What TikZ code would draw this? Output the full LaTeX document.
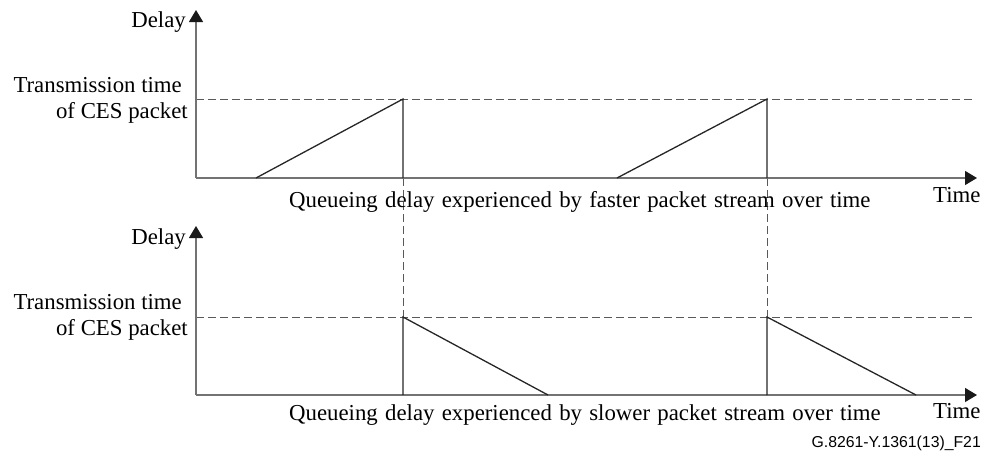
\documentclass[tikz,border=0pt]{standalone}
\usepackage{fontspec}
\setmainfont{Liberation Serif}
\newfontfamily\figsans{Liberation Sans}
\usetikzlibrary{arrows.meta}
\newcommand\widespaces{\spaceskip=7.3pt plus 1pt\relax}
\begin{document}
\begin{tikzpicture}[x=1pt,y=-1pt,
  axis/.style={draw=black!55, line width=1.2pt,
    -{Triangle[length=12pt,width=14pt,color=black!90]}},
  ramp/.style={draw=black!85, line width=1.3pt},
  guide/.style={draw=black!65, line width=1pt, dash pattern=on 8pt off 4pt},
  lbl/.style={inner sep=0pt, font=\fontsize{22.8}{27}\selectfont},
  tag/.style={inner sep=0pt, font=\figsans\fontsize{15.8}{18}\selectfont}]
\useasboundingbox (0,0) rectangle (982,456);

% upper plot: faster stream
\coordinate (o1) at (196,178);
\coordinate (y1) at (196,10);
\coordinate (x1) at (977,178);
\coordinate (l1) at (196,99);
\coordinate (r1) at (975,99);
\coordinate (a1) at (256,178);
\coordinate (p1) at (403,99);
\coordinate (f1) at (403,178);
\coordinate (a2) at (617,178);
\coordinate (p2) at (767,99);
\coordinate (f2) at (767,178);

% lower plot: slower stream
\coordinate (o2) at (196,395);
\coordinate (y2) at (196,226);
\coordinate (x2) at (977,395);
\coordinate (l2) at (196,317);
\coordinate (r2) at (975,317);
\coordinate (q1) at (403,317);
\coordinate (g1) at (403,395);
\coordinate (e1) at (548,395);
\coordinate (q2) at (767,317);
\coordinate (g2) at (767,395);
\coordinate (e2) at (916,395);

% guide lines
\draw[guide] (l1) -- (r1);
\draw[guide] (l2) -- (r2);
\draw[guide] (f1) -- (q1);
\draw[guide] (f2) -- (q2);

% axes
\draw[axis] (o1) -- (y1);
\draw[axis] (o1) -- (x1);
\draw[axis] (o2) -- (y2);
\draw[axis] (o2) -- (x2);

% queueing delay curves
\draw[ramp] (a1) -- (p1) -- (f1);
\draw[ramp] (a2) -- (p2) -- (f2);
\draw[ramp] (g1) -- (q1) -- (e1);
\draw[ramp] (g2) -- (q2) -- (e2);

% labels, upper plot
\node[lbl, anchor=base east] (d1) at (186,27) {Delay};
\node[lbl, anchor=base east] (t1a) at (182,92) {Transmission time};
\node[lbl, anchor=base east] (t1b) at (188,118) {of CES packet};
\node[lbl, anchor=base west] (tm1) at (933,202) {Time};
\node[lbl, anchor=base west] (c1) at (289,207) {\widespaces Queueing delay experienced by faster packet stream over time};

% labels, lower plot
\node[lbl, anchor=base east] (d2) at (186,244) {Delay};
\node[lbl, anchor=base east] (t2a) at (182,309) {Transmission time};
\node[lbl, anchor=base east] (t2b) at (188,335) {of CES packet};
\node[lbl, anchor=base west] (tm2) at (933,418) {Time};
\node[lbl, anchor=base west] (c2) at (289,420.5) {\widespaces Queueing delay experienced by slower packet stream over time};

\node[tag, anchor=base east] (fig) at (981,447) {G.8261-Y.1361(13)\_F21};
\end{tikzpicture}
\end{document}
